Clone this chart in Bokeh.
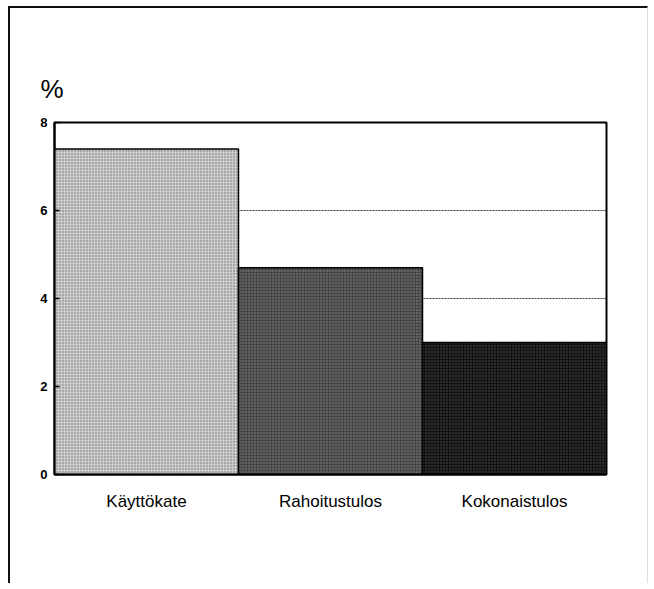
from bokeh.plotting import figure
from bokeh.models import FactorRange, FixedTicker, ColumnDataSource, Title
from bokeh.embed import file_html
from bokeh.resources import INLINE

categories = ["Käyttökate", "Rahoitustulos", "Kokonaistulos"]
values = [7.4, 4.7, 3.0]
fills = ["#cccccc", "#474747", "#141414"]
hatch_colors = ["#707070", "#8a8a8a", "#505050"]
y_ticks = [0, 2, 4, 6, 8]

src = ColumnDataSource(dict(cat=categories, val=values, fill=fills, hc=hatch_colors))

p = figure(x_range=FactorRange(*categories, range_padding=0), y_range=(0, 8),
           width=640, height=577, output_backend="svg", toolbar_location=None,
           min_border_left=44, min_border_right=44, min_border_top=114, min_border_bottom=111)
p.styles = {"margin-left": "8px", "margin-top": "6px",
            "border-left": "2px solid #111", "border-top": "2px solid #111",
            "border-right": "1px solid #ddd"}
p.background_fill_color = "white"
p.border_fill_color = "white"
p.outline_line_color = "black"
p.outline_line_width = 2

p.xgrid.grid_line_color = None
p.ygrid.grid_line_color = "#333333"
p.ygrid.grid_line_dash = "2 1"
p.ygrid.grid_line_width = 1

p.vbar(x="cat", top="val", width=1.0, source=src, fill_color="fill",
       line_color="black", line_width=1.5,
       hatch_pattern="dot", hatch_color="hc", hatch_scale=3, hatch_weight=1)

p.yaxis.ticker = FixedTicker(ticks=y_ticks)
p.yaxis.major_tick_in = 5
p.yaxis.major_tick_out = 0
p.yaxis.minor_tick_line_color = None
p.yaxis.axis_line_color = "black"
p.yaxis.axis_line_width = 2
p.yaxis.major_tick_line_width = 1.5
p.yaxis.major_label_text_font = "Liberation Sans"
p.yaxis.major_label_text_font_style = "bold"
p.yaxis.major_label_text_font_size = "13px"
p.yaxis.major_label_text_color = "black"
p.yaxis.major_label_standoff = 7

p.xaxis.major_tick_line_color = None
p.xaxis.minor_tick_line_color = None
p.xaxis.axis_line_color = "black"
p.xaxis.axis_line_width = 2
p.xaxis.major_label_text_font = "Liberation Sans"
p.xaxis.major_label_text_font_size = "17px"
p.xaxis.major_label_text_color = "black"
p.xaxis.major_label_standoff = 11

p.add_layout(Title(text="%", text_font="Liberation Sans", text_font_size="26px",
                   text_font_style="normal", text_color="black", align="left",
                   offset=-14, standoff=37), "above")

open("out.html", "w").write(file_html(p, INLINE))
